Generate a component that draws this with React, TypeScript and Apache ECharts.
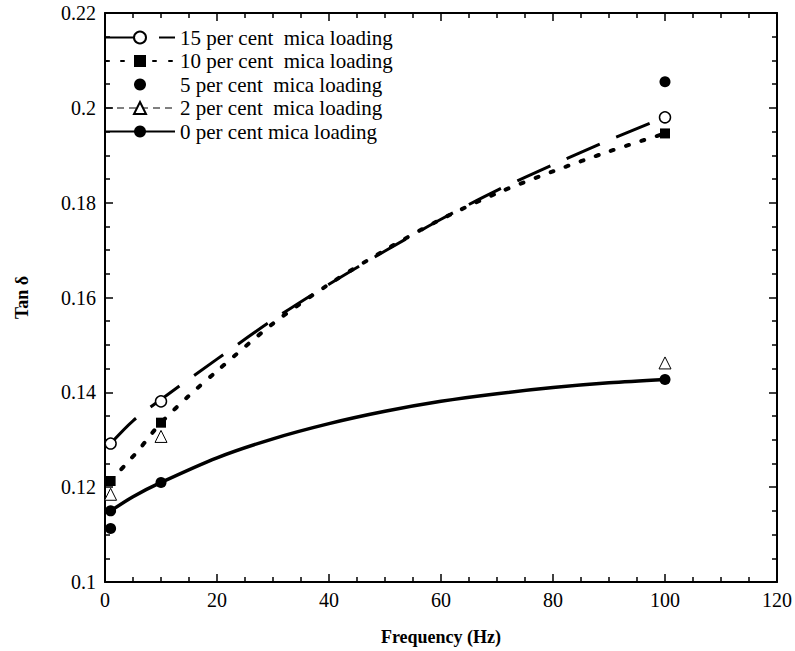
import React, { useEffect, useRef } from "react";
import * as echarts from "echarts";

// Measured points
const freqs = [1, 10, 100];
const tan15 = [0.1292, 0.1381, 0.198];
const tan10 = [0.1213, 0.1336, 0.1946];
const freqs5 = [1, 100];
const tan5 = [0.1113, 0.2055];
const tan2 = [0.1185, 0.1307, 0.1462];
const tan0 = [0.115, 0.121, 0.1427];

// Fitted curves
const fit15X = [1, 5, 10, 20, 30, 40, 50, 60, 70, 80, 90, 100];
const fit15Y = [0.1292, 0.134, 0.1385, 0.147, 0.1553, 0.1628, 0.1698, 0.1765, 0.1826, 0.188, 0.1932, 0.198];
const fit10X = [1, 4, 6, 8, 10, 15, 20, 30, 40, 50, 60, 70, 80, 90, 100];
const fit10Y = [0.1213, 0.1252, 0.1278, 0.1308, 0.1336, 0.1393, 0.1445, 0.1545, 0.1628, 0.17, 0.1765, 0.182, 0.1866, 0.1908, 0.1946];
const fit0X = [1, 5, 10, 20, 30, 40, 50, 60, 70, 80, 90, 100];
const fit0Y = [0.115, 0.118, 0.121, 0.1262, 0.1302, 0.1334, 0.136, 0.1381, 0.1397, 0.141, 0.142, 0.1427];

const names = [
  "15 per cent  mica loading",
  "10 per cent  mica loading",
  "5 per cent  mica loading",
  "2 per cent  mica loading",
  "0 per cent mica loading",
];

const xTicks = { min: 0, max: 120, interval: 20 };
const yTicks = { min: 0.1, max: 0.22, interval: 0.02 };

const FONT = "Liberation Serif";

const zip = (xs: number[], ys: number[]) => xs.map((x, i) => [x, ys[i]]);

export default function App() {
  const ref = useRef<HTMLDivElement>(null);
  useEffect(() => {
    document.body.style.margin = "0";
    const chart = echarts.init(ref.current!, undefined, { renderer: "svg" });
    const black = "#000";
    const axisCommon = {
      axisLine: { show: true, onZero: false, lineStyle: { color: black, width: 2 } },
      axisTick: { show: true, inside: true, length: 8, lineStyle: { color: black, width: 1.5 } },
      minorTick: { show: true, splitNumber: 4, length: 5, lineStyle: { color: black, width: 1.5 } },
      splitLine: { show: false },
      minorSplitLine: { show: false },
    };
    const sym15 = { symbol: "circle", symbolSize: 11, itemStyle: { color: "#fff", borderColor: black, borderWidth: 1.5, opacity: 1 } };
    const sym10 = { symbol: "rect", symbolSize: 10, itemStyle: { color: black, opacity: 1 } };
    const sym5 = { symbol: "circle", symbolSize: 11, itemStyle: { color: black, opacity: 1 } };
    const sym2 = { symbol: "triangle", symbolSize: 12, itemStyle: { color: "#fff", borderColor: black, borderWidth: 1, opacity: 1 } };
    const sym0 = { symbol: "circle", symbolSize: 11, itemStyle: { color: black, opacity: 1 } };

    const curve = (xs: number[], ys: number[]) =>
      zip(xs, ys).map((p) => ({ value: p, symbol: "none" }));

    chart.setOption({
      animation: false,
      backgroundColor: "#fff",
      textStyle: { fontFamily: FONT },
      grid: { left: 105, right: 15.5, top: 13, bottom: 68, containLabel: false },
      legend: {
        orient: "vertical",
        left: 104,
        top: 27,
        padding: 0,
        itemWidth: 70,
        itemHeight: 15,
        itemGap: 2.5,
        textStyle: { fontFamily: FONT, fontSize: 21, color: black },
        data: [
          { name: names[0] },
          { name: names[1] },
          { name: names[2] },
          { name: names[3], lineStyle: { opacity: 1, width: 1, type: [7, 5], color: black } },
          { name: names[4] },
        ],
      },
      xAxis: [
        {
          type: "value",
          ...xTicks,
          position: "bottom",
          ...axisCommon,
          axisLabel: { color: black, fontFamily: FONT, fontSize: 20, margin: 8 },
          name: "Frequency (Hz)",
          nameLocation: "middle",
          nameGap: 46,
          nameTextStyle: { color: black, fontFamily: FONT, fontSize: 18, fontWeight: "bold" },
        },
        {
          type: "value",
          ...xTicks,
          position: "top",
          ...axisCommon,
          axisLabel: { show: false },
        },
      ],
      yAxis: [
        {
          type: "value",
          ...yTicks,
          position: "left",
          ...axisCommon,
          axisLabel: {
            color: black,
            fontFamily: FONT,
            fontSize: 20,
            margin: 9,
            formatter: (v: number) => String(+v.toFixed(3)),
          },
          name: "Tan δ",
          nameLocation: "middle",
          nameGap: 74,
          nameTextStyle: { color: black, fontFamily: FONT, fontSize: 18, fontWeight: "bold" },
        },
        {
          type: "value",
          ...yTicks,
          position: "right",
          ...axisCommon,
          axisLabel: { show: false },
        },
      ],
      series: [
        {
          name: names[0],
          type: "line",
          smooth: 0.3,
          ...sym15,
          lineStyle: { color: black, width: 3, type: [36, 18] },
          data: curve(fit15X, fit15Y),
          z: 2,
        },
        {
          name: names[1],
          type: "line",
          smooth: 0.3,
          ...sym10,
          lineStyle: { color: black, width: 4, type: [3, 13], cap: "round" },
          data: curve(fit10X, fit10Y),
          z: 2,
        },
        {
          name: names[2],
          type: "line",
          ...sym5,
          lineStyle: { color: black, width: 0, opacity: 0 },
          data: zip(freqs5, tan5),
          z: 4,
        },
        {
          name: names[3],
          type: "line",
          ...sym2,
          lineStyle: { color: black, width: 0, opacity: 0 },
          data: zip(freqs, tan2),
          z: 4,
        },
        {
          name: names[4],
          type: "line",
          smooth: 0.3,
          ...sym0,
          lineStyle: { color: black, width: 3.5 },
          data: curve(fit0X, fit0Y),
          z: 2,
        },
        { name: "pts15", type: "scatter", ...sym15, data: zip(freqs, tan15), z: 5 },
        { name: "pts10", type: "scatter", ...sym10, data: zip(freqs, tan10), z: 5 },
        { name: "pts0", type: "scatter", ...sym0, data: zip(freqs, tan0), z: 5 },
      ],
    });
    return () => chart.dispose();
  }, []);
  return <div ref={ref} style={{ width: 795, height: 651 }} />;
}
